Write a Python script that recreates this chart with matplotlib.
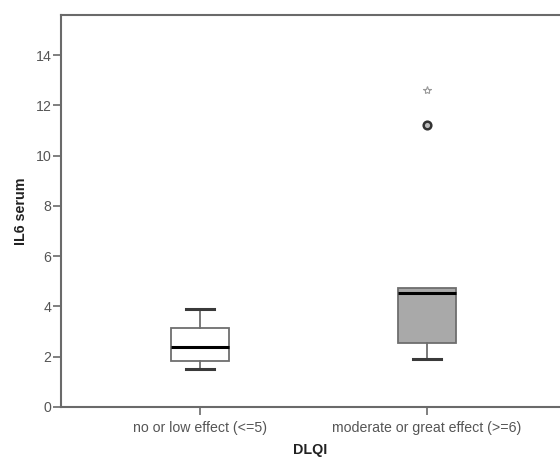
import matplotlib
matplotlib.use("Agg")
import matplotlib.pyplot as plt

groups = ["no or low effect (<=5)", "moderate or great effect (>=6)"]
q1 = [1.83, 2.56]
med = [2.40, 4.52]
q3 = [3.13, 4.72]
wlo = [1.51, 1.91]
whi = [3.91, 4.72]
outliers = [[], [11.22]]
extremes = [[], [12.6]]
fills = ["white", "#a9a9a9"]

plt.rcParams["font.family"] = ["Liberation Sans", "DejaVu Sans"]

fig = plt.figure(figsize=(5.6, 4.59), dpi=100)
ax = fig.add_axes([0.109, 0.1133, 0.889, 0.854])

stats = []
for i, g in enumerate(groups):
    stats.append({"label": g, "q1": q1[i], "med": med[i], "q3": q3[i],
                  "whislo": wlo[i], "whishi": whi[i], "fliers": outliers[i]})

pos = [1, 2]
bp = ax.bxp(stats, positions=pos, widths=0.256, patch_artist=True,
            showfliers=True, capwidths=0.125,
            boxprops=dict(edgecolor="#6e6e6e", linewidth=1.3),
            whiskerprops=dict(color="#6e6e6e", linewidth=1.3),
            capprops=dict(color="#3a3a3a", linewidth=2.2),
            medianprops=dict(color="black", linewidth=2.2),
            flierprops=dict(marker="o", markersize=5.5, markerfacecolor="#bbbbbb",
                            markeredgecolor="#333333", markeredgewidth=1.8))
for patch, c in zip(bp["boxes"], fills):
    patch.set_facecolor(c)

# no visible cap when the whisker ends at the box edge
for i in range(len(groups)):
    if whi[i] <= q3[i]:
        bp["caps"][2 * i + 1].set_visible(False)
    if wlo[i] >= q1[i]:
        bp["caps"][2 * i].set_visible(False)

for p, ex in zip(pos, extremes):
    if ex:
        ax.plot([p] * len(ex), ex, linestyle="none", marker="*", markersize=6,
                markerfacecolor="white", markeredgecolor="#999999", markeredgewidth=0.8)

ax.set_xlim(0.388, 2.581)
ax.set_ylim(0, 15.6)
ax.set_yticks(range(0, 15, 2))
ax.set_xticks(pos)
ax.set_xticklabels(groups)

for s in ["left", "bottom", "top"]:
    ax.spines[s].set_color("#6a6a6a")
    ax.spines[s].set_linewidth(1.5)
ax.spines["right"].set_visible(False)
ax.tick_params(axis="both", colors="#6a6a6a", labelcolor="#555555", labelsize=10.2,
               length=6, width=1.2, pad=1)
ax.tick_params(axis="x", pad=4)

ax.set_ylabel("IL6 serum", fontsize=10.3, fontweight="bold", color="#222222", labelpad=5)
ax.set_xlabel("DLQI", fontsize=10.3, fontweight="bold", color="#222222", labelpad=6)

fig.savefig("out.png", dpi=100)
